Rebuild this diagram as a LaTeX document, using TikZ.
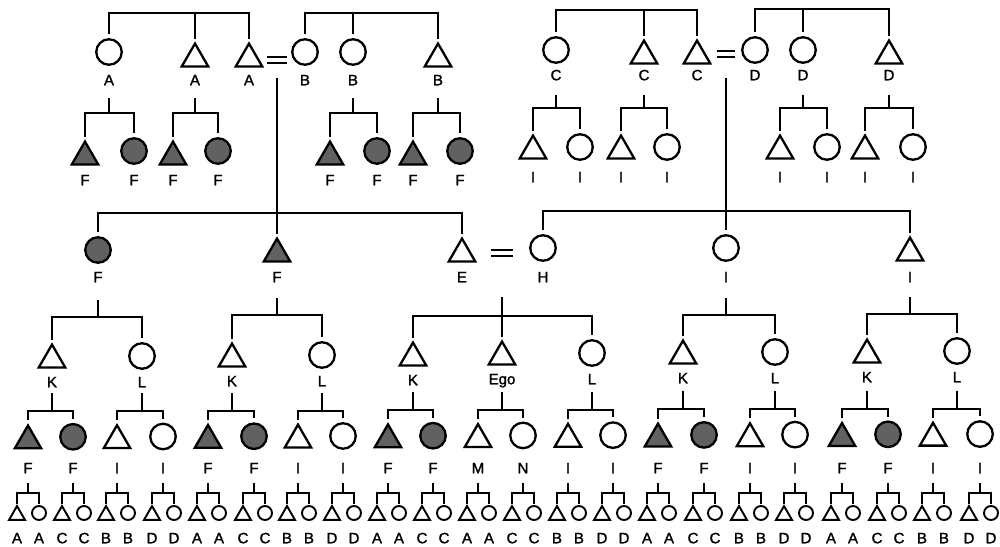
\documentclass[tikz,border=0pt]{standalone}
\usepackage{fontspec}
\setmainfont{Liberation Sans}
\newfontfamily\lblfont{Liberation Sans}[BoldFont={Liberation Sans},BoldFeatures={FakeBold=1.5}]
\usetikzlibrary{shapes.geometric}
\newcommand\kinfam[5]{%
  \draw[conn] (#1 |- 0,#2) -- (#1 |- 0,#3);
  \draw[conn] (#4) -- (#4 |- 0,#3) -| (#5);}
\begin{document}
\begin{tikzpicture}[x=1pt,y=-1pt,
  conn/.style={line width=2pt},
  sconn/.style={line width=1.7pt},
  bc/.style={circle,draw,line width=2.3pt,minimum size=25.5pt,inner sep=0pt,outer sep=5pt},
  bt/.style={regular polygon,regular polygon sides=3,draw,line width=2.3pt,minimum size=30.5pt,inner sep=0pt,outer sep=2.5pt,yshift=-3.8pt},
  bcf/.style={bc,fill=black!62},
  btf/.style={bt,fill=black!62},
  sc/.style={circle,draw,line width=1.9pt,minimum size=14pt,inner sep=0pt,outer sep=2pt},
  st/.style={regular polygon,regular polygon sides=3,draw,line width=1.9pt,minimum size=18.5pt,inner sep=0pt,outer sep=1pt,yshift=-2.3pt},
  lbl/.style={font=\lblfont\bfseries\fontsize{15}{15}\selectfont,inner sep=0pt,text height=10.5pt,text depth=0pt}]
\path[use as bounding box] (0,0) rectangle (1000,546);

% ---------- top left ----------
\node[bc] (a1) at (109,52) {};
\node[bt] (a2) at (195,55) {};
\node[bt] (a3) at (249,55) {};
\node[bc] (b1) at (305,52) {};
\node[bc] (b2) at (353,52) {};
\node[bt] (b3) at (438,55) {};
\node[lbl] (a1l) at (109,80) {A};
\node[lbl] (a2l) at (195,80) {A};
\node[lbl] (a3l) at (249,80) {A};
\node[lbl] (b1l) at (305,80) {B};
\node[lbl] (b2l) at (353,80) {B};
\node[lbl] (b3l) at (438,80) {B};
\coordinate (eqab) at (277,60);
\draw[conn] ([xshift=-10pt,yshift=3pt]eqab) -- ([xshift=10pt,yshift=3pt]eqab);
\draw[conn] ([xshift=-10pt,yshift=-3pt]eqab) -- ([xshift=10pt,yshift=-3pt]eqab);
\draw[conn] (a1) -- (a1 |- 0,13) -| (a3);
\draw[conn] (a2 |- 0,13) -- (a2);
\draw[conn] (b1) -- (b1 |- 0,13) -| (b3);
\draw[conn] (b2 |- 0,13) -- (b2);

% ---------- top right ----------
\node[bc] (c1) at (556,50) {};
\node[bt] (c2) at (644,52) {};
\node[bt] (c3) at (697,52) {};
\node[bc] (d1) at (755,50) {};
\node[bc] (d2) at (803,50) {};
\node[bt] (d3) at (889,52) {};
\node[lbl] (c1l) at (556,75) {C};
\node[lbl] (c2l) at (644,75) {C};
\node[lbl] (c3l) at (697,75) {C};
\node[lbl] (d1l) at (755,75) {D};
\node[lbl] (d2l) at (803,75) {D};
\node[lbl] (d3l) at (889,75) {D};
\coordinate (eqcd) at (726,54);
\draw[conn] ([xshift=-9pt,yshift=3pt]eqcd) -- ([xshift=9pt,yshift=3pt]eqcd);
\draw[conn] ([xshift=-9pt,yshift=-3pt]eqcd) -- ([xshift=9pt,yshift=-3pt]eqcd);
\draw[conn] (c1) -- (c1 |- 0,10) -| (c3);
\draw[conn] (c2 |- 0,10) -- (c2);
\draw[conn] (d1) -- (d1 |- 0,9) -| (d3);
\draw[conn] (d2 |- 0,9) -- (d2);

% ---------- second row left (F) ----------
\node[btf] (fa1) at (85,153) {};
\node[bcf] (fa2) at (134,151) {};
\node[btf] (fa3) at (173,153) {};
\node[bcf] (fa4) at (218,151) {};
\node[btf] (fb1) at (330,153) {};
\node[bcf] (fb2) at (377,151) {};
\node[btf] (fb3) at (413,153) {};
\node[bcf] (fb4) at (460,151) {};
\foreach \n/\x in {fa1/85,fa2/134,fa3/173,fa4/218,fb1/330,fb2/377,fb3/413,fb4/460}
  \node[lbl] (\n l) at (\x,180) {F};
\kinfam{a1l}{98}{113}{fa1}{fa2}
\kinfam{a2l}{98}{113}{fa3}{fa4}
\kinfam{b2l}{98}{113}{fb1}{fb2}
\kinfam{b3l}{98}{113}{fb3}{fb4}

% ---------- second row right (I) ----------
\node[bt] (ic1) at (533,147) {};
\node[bc] (ic2) at (580,147) {};
\node[bt] (ic3) at (621,147) {};
\node[bc] (ic4) at (667,147) {};
\node[bt] (id1) at (780,147) {};
\node[bc] (id2) at (827,147) {};
\node[bt] (id3) at (865,147) {};
\node[bc] (id4) at (913,147) {};
\foreach \n/\x in {ic1/533,ic2/580,ic3/621,ic4/667,id1/780,id2/827,id3/865,id4/913}
  \node[lbl] (\n l) at (\x,177) {I};
\kinfam{c1l}{95}{108}{ic1}{ic2}
\kinfam{c2l}{95}{108}{ic3}{ic4}
\kinfam{d2l}{95}{108}{id1}{id2}
\kinfam{d3l}{95}{108}{id3}{id4}

% ---------- middle generation ----------
\node[bcf] (f2c) at (98,250) {};
\node[btf] (f2t) at (277,250) {};
\node[bt] (e2) at (462,250) {};
\node[bc] (h2) at (543,248) {};
\node[bc] (i2c) at (726,248) {};
\node[bt] (i2t) at (910,249) {};
\node[lbl] (f2cl) at (98,277) {F};
\node[lbl] (f2tl) at (277,277) {F};
\node[lbl] (e2l) at (462,277) {E};
\node[lbl] (h2l) at (543,277) {H};
\node[lbl] (i2cl) at (726,277) {I};
\node[lbl] (i2tl) at (910,277) {I};
\coordinate (eqeh) at (502,253);
\draw[conn] ([xshift=-11pt,yshift=3pt]eqeh) -- ([xshift=11pt,yshift=3pt]eqeh);
\draw[conn] ([xshift=-11pt,yshift=-3pt]eqeh) -- ([xshift=11pt,yshift=-3pt]eqeh);
\draw[conn] (f2c) -- (f2c |- 0,213) -| (e2);
\draw[conn] (eqab |- 0,78) -- (f2t);
\draw[conn] (h2) -- (h2 |- 0,211) -| (i2t);
\draw[conn] (eqcd |- 0,78) -- (i2c);

% ---------- K / L generation ----------
\node[bt] (k1) at (52,356) {};
\node[bc] (l1) at (142,356) {};
\node[bt] (k2) at (232,355) {};
\node[bc] (l2) at (322,355) {};
\node[bt] (k3) at (413,354) {};
\node[bt] (ego) at (502,353) {};
\node[bc] (l3) at (592,353) {};
\node[bt] (k4) at (683,352) {};
\node[bc] (l4) at (775,352) {};
\node[bt] (k5) at (867,351) {};
\node[bc] (l5) at (957,351) {};
\node[lbl] (k1l) at (52,382) {K};
\node[lbl] (l1l) at (142,382) {L};
\node[lbl] (k2l) at (232,381) {K};
\node[lbl] (l2l) at (322,381) {L};
\node[lbl] (k3l) at (413,380) {K};
\node[lbl] (egol) at (502,379) {Ego};
\node[lbl] (l3l) at (592,379) {L};
\node[lbl] (k4l) at (683,378) {K};
\node[lbl] (l4l) at (775,378) {L};
\node[lbl] (k5l) at (867,377) {K};
\node[lbl] (l5l) at (957,377) {L};
\kinfam{f2cl}{300}{317}{k1}{l1}
\kinfam{f2tl}{298}{315}{k2}{l2}
\draw[conn] (eqeh |- 0,297) -- (ego);
\draw[conn] (k3) -- (k3 |- 0,316) -| (l3);
\kinfam{i2cl}{298}{315}{k4}{l4}
\kinfam{i2tl}{297}{314}{k5}{l5}

% ---------- fourth generation ----------
\foreach \i/\x/\s/\l in {1/28/btf/F,2/73/bcf/F,3/117/bt/I,4/163/bc/I,5/208/btf/F,6/254/bcf/F,7/298/bt/I,8/343/bc/I,9/388/btf/F,10/433/bcf/F,11/478/bt/M,12/523/bc/N,13/568/bt/I,14/613/bc/I,15/658/btf/F,16/704/bcf/F,17/750/bt/I,18/795/bc/I,19/842/btf/F,20/888/bcf/F,21/933/bt/I,22/980/bc/I}{
  \node[\s] (g\i) at (\x,437-0.003*\x) {};
  \node[lbl] (gl\i) at (\x,468) {\l};
}
\kinfam{k1l}{393}{411}{g1}{g2}
\kinfam{l1l}{393}{411}{g3}{g4}
\kinfam{k2l}{393}{411}{g5}{g6}
\kinfam{l2l}{393}{411}{g7}{g8}
\kinfam{k3l}{392}{410}{g9}{g10}
\kinfam{egol}{392}{410}{g11}{g12}
\kinfam{l3l}{392}{410}{g13}{g14}
\kinfam{k4l}{391}{409}{g15}{g16}
\kinfam{l4l}{391}{409}{g17}{g18}
\kinfam{k5l}{391}{409}{g19}{g20}
\kinfam{l5l}{391}{409}{g21}{g22}

% ---------- fifth generation ----------
\foreach \i/\x/\a in {1/28/A,2/73/C,3/117/B,4/163/D,5/208/A,6/254/C,7/298/B,8/343/D,9/388/A,10/433/C,11/478/A,12/523/C,13/568/B,14/613/D,15/658/A,16/704/C,17/750/B,18/795/D,19/842/A,20/888/C,21/933/B,22/980/D}{
  \node[st] (st\i) at (\x-11,513) {};
  \node[sc] (sc\i) at (\x+11,513) {};
  \node[lbl] (stl\i) at (\x-11,538) {\a};
  \node[lbl] (scl\i) at (\x+11,538) {\a};
  \draw[sconn] (gl\i |- 0,483) -- (gl\i |- 0,493);
  \draw[sconn] (st\i) -- (st\i |- 0,493) -| (sc\i);
}
\end{tikzpicture}
\end{document}
